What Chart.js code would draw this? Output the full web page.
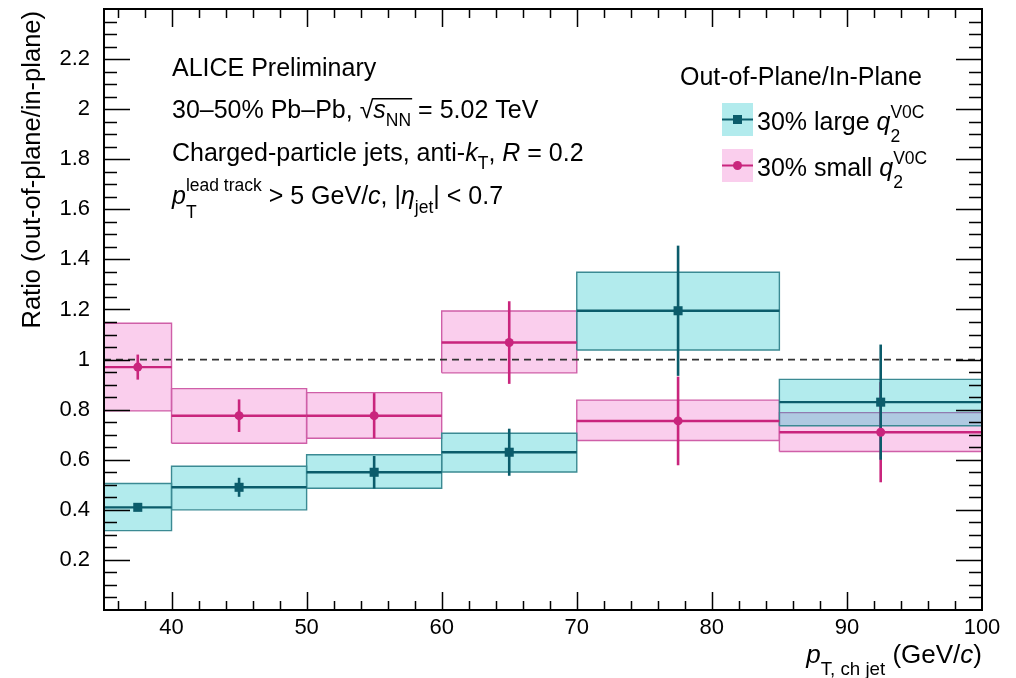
<!DOCTYPE html>
<html>
<head>
<meta charset="utf-8">
<script src="https://cdn.jsdelivr.net/npm/chart.js@4.4.0/dist/chart.umd.min.js"></script>
<style>
  html, body { margin: 0; padding: 0; background: #fff; }
  #wrap { width: 1016px; height: 678px; position: relative; }
</style>
</head>
<body>
<div id="wrap"><canvas id="ratioChart"></canvas></div>
<script>
// bins in pT,ch jet (GeV/c)
const binEdges = [35, 40, 50, 60, 70, 85, 100];
const binCenters = [37.5, 45, 55, 65, 77.5, 92.5];

// 30% large q2 (V0C)
const largeVal = [0.41, 0.49, 0.55, 0.63, 1.195, 0.83];
const largeStat = [0.012, 0.038, 0.065, 0.094, 0.26, 0.23];
const largeSysLo = [0.317, 0.40, 0.486, 0.551, 1.038, 0.736];
const largeSysHi = [0.505, 0.574, 0.62, 0.706, 1.349, 0.921];

// 30% small q2 (V0C)
const smallVal = [0.97, 0.776, 0.776, 1.068, 0.755, 0.71];
const smallStat = [0.05, 0.065, 0.09, 0.165, 0.177, 0.2];
const smallSysLo = [0.795, 0.666, 0.686, 0.947, 0.677, 0.633];
const smallSysHi = [1.145, 0.884, 0.868, 1.194, 0.838, 0.788];

const xTickLabels = [40, 50, 60, 70, 80, 90, 100];
const yTickLabels = [0.2, 0.4, 0.6, 0.8, 1, 1.2, 1.4, 1.6, 1.8, 2, 2.2];
const refLine = 1;

const FONT = '"Liberation Sans", Arial, Helvetica, sans-serif';
const TEAL = '#0b5c6b', TEAL_EDGE = '#3b8a93', TEAL_FILL = 'rgba(0,190,195,0.3)';
const PINK = '#c9257d', PINK_EDGE = '#cf5fa8', PINK_FILL = 'rgba(235,60,185,0.25)';

function boxSets(lo, hi, edge, fill, order) {
    return binCenters.map((c, i) => ({
        data: [
            {x: binEdges[i], y: lo[i]}, {x: binEdges[i], y: hi[i]},
            {x: binEdges[i + 1], y: hi[i]}, {x: binEdges[i + 1], y: lo[i]},
            {x: binEdges[i], y: lo[i]}
        ],
        borderColor: edge, backgroundColor: fill, borderWidth: 1.4,
        borderJoinStyle: 'miter', fill: 'shape', order: order
    }));
}

function binLines(val, color, order) {
    return binCenters.map((c, i) => ({
        data: [{x: binEdges[i], y: val[i]}, {x: binEdges[i + 1], y: val[i]}],
        borderColor: color, borderWidth: 2.4, fill: false, order: order
    }));
}

function statBars(val, err, color, order) {
    return binCenters.map((c, i) => ({
        data: [{x: c, y: val[i] - err[i]}, {x: c, y: val[i] + err[i]}],
        borderColor: color, borderWidth: 2.6, fill: false, order: order
    }));
}

function markers(val, color, style, r) {
    return {
        data: binCenters.map((c, i) => ({x: c, y: val[i]})),
        showLine: false, pointStyle: style, pointRadius: r,
        pointBackgroundColor: color, pointBorderColor: color, pointBorderWidth: 0,
        order: 0
    };
}

// text with italics / sub / superscripts, returns end x
function drawRuns(ctx, x, y, runs, size, measureOnly) {
    runs.forEach(r => {
        if (typeof r === 'string') r = {t: r};
        const parts = r.stack || [r];
        let adv = 0;
        parts.forEach(p => {
            ctx.font = (p.i ? 'italic ' : '') + (size * (p.s || 1)) + 'px ' + FONT;
            if (!measureOnly) ctx.fillText(p.t, x, y + (p.dy || 0));
            adv = Math.max(adv, ctx.measureText(p.t).width);
        });
        x += adv;
    });
    return x;
}

const frameTicks = {
    id: 'frameTicks',
    afterDraw(chart) {
        const {ctx, chartArea: a, scales: {x, y}} = chart;
        ctx.save();
        ctx.strokeStyle = '#000';
        ctx.lineWidth = 1.5;
        ctx.beginPath();
        for (let v = 36; v < 100; v += 2) {
            const px = Math.round(x.getPixelForValue(v)) + 0.5;
            const len = v % 10 === 0 ? 18 : 9;
            ctx.moveTo(px, a.bottom); ctx.lineTo(px, a.bottom - len);
            ctx.moveTo(px, a.top); ctx.lineTo(px, a.top + len);
        }
        for (let k = 1; k < 48; k++) {
            const py = Math.round(y.getPixelForValue(k * 0.05)) + 0.5;
            const len = k % 4 === 0 ? 26 : 13;
            ctx.moveTo(a.left, py); ctx.lineTo(a.left + len, py);
            ctx.moveTo(a.right, py); ctx.lineTo(a.right - len, py);
        }
        ctx.stroke();
        ctx.lineWidth = 2;
        ctx.strokeRect(a.left, a.top, a.right - a.left, a.bottom - a.top);
        ctx.restore();
    }
};

const annotations = {
    id: 'annotations',
    afterDraw(chart) {
        const {ctx, chartArea: a} = chart;
        const S = 25;
        ctx.save();
        ctx.fillStyle = '#000';
        ctx.textBaseline = 'alphabetic';
        ctx.textAlign = 'left';

        // left text block
        const tx = 172;
        drawRuns(ctx, tx, 76, ['ALICE Preliminary'], S);
        let xx = drawRuns(ctx, tx, 118, ['30\u201350% Pb\u2013Pb, ', '\u221a'], S);
        const ox = xx;
        xx = drawRuns(ctx, xx, 118, [{t: 's', i: 1}, {t: 'NN', s: 0.7, dy: 8}], S);
        ctx.fillRect(ox - 1, 118 - 20, xx - ox + 2, 1.5);
        drawRuns(ctx, xx, 118, [' = 5.02 TeV'], S);
        drawRuns(ctx, tx, 161, ['Charged-particle jets, anti-', {t: 'k', i: 1}, {t: 'T', s: 0.7, dy: 8},
            ', ', {t: 'R', i: 1}, ' = 0.2'], S);
        drawRuns(ctx, tx, 204, [{t: 'p', i: 1},
            {stack: [{t: 'lead track', s: 0.7, dy: -13}, {t: 'T', s: 0.7, dy: 14}]},
            ' > 5 GeV/', {t: 'c', i: 1}, ', |', {t: '\u03b7', i: 1}, {t: 'jet', s: 0.7, dy: 9}, '| < 0.7'], S);

        // legend
        drawRuns(ctx, 680, 85, ['Out-of-Plane/In-Plane'], S);
        const entries = [
            {fill: TEAL_FILL, color: TEAL, rect: true, cy: 119.5, label: '30% large '},
            {fill: PINK_FILL, color: PINK, rect: false, cy: 165.5, label: '30% small '}
        ];
        entries.forEach(e => {
            ctx.fillStyle = e.fill;
            ctx.fillRect(722, e.cy - 16.5, 31, 33);
            ctx.strokeStyle = e.color;
            ctx.lineWidth = 2;
            ctx.beginPath(); ctx.moveTo(722, e.cy); ctx.lineTo(753, e.cy); ctx.stroke();
            ctx.fillStyle = e.color;
            ctx.beginPath();
            if (e.rect) ctx.rect(733, e.cy - 4.5, 9, 9);
            else ctx.arc(737.5, e.cy, 4.5, 0, Math.PI * 2);
            ctx.fill();
            ctx.fillStyle = '#000';
            drawRuns(ctx, 757, e.cy + 10.5, [e.label, {t: 'q', i: 1},
                {stack: [{t: 'V0C', s: 0.7, dy: -12}, {t: '2', s: 0.7, dy: 12}]}], S);
        });

        // x title, right aligned to frame
        const xRuns = [{t: 'p', i: 1}, {t: 'T, ch jet', s: 0.72, dy: 12}, ' (GeV/', {t: 'c', i: 1}, ')'];
        const w = drawRuns(ctx, 0, 0, xRuns, 26, true);
        drawRuns(ctx, a.right - w, 663, xRuns, 26);

        // y title, rotated, right aligned to top
        ctx.translate(40, 11);
        ctx.rotate(-Math.PI / 2);
        ctx.textAlign = 'right';
        ctx.font = '25.5px ' + FONT;
        ctx.fillText('Ratio (out-of-plane/in-plane)', 0, 0);
        ctx.restore();
    }
};

const datasets = [].concat(
    [markers(largeVal, TEAL, 'rect', 6.4), markers(smallVal, PINK, 'circle', 4.5)],
    statBars(largeVal, largeStat, TEAL, 1),
    statBars(smallVal, smallStat, PINK, 1),
    binLines(largeVal, TEAL, 2),
    binLines(smallVal, PINK, 2),
    [{data: [{x: binEdges[0], y: refLine}, {x: binEdges[binEdges.length - 1], y: refLine}],
      borderColor: '#333', borderWidth: 1.8, borderDash: [7, 5], fill: false, order: 3}],
    boxSets(largeSysLo, largeSysHi, TEAL_EDGE, TEAL_FILL, 4),
    boxSets(smallSysLo, smallSysHi, PINK_EDGE, PINK_FILL, 5)
);

new Chart(document.getElementById('ratioChart').getContext('2d'), {
    type: 'line',
    data: {datasets: datasets},
    options: {
        responsive: true, maintainAspectRatio: false, animation: false, devicePixelRatio: 1,
        events: [],
        layout: {padding: {left: 0, right: 34, top: 9, bottom: 0}},
        elements: {point: {radius: 0, hoverRadius: 0}, line: {tension: 0}},
        plugins: {legend: {display: false}, tooltip: {enabled: false}},
        scales: {
            x: {
                type: 'linear', min: 35, max: 100,
                grid: {display: false}, border: {display: false},
                afterBuildTicks: s => { s.ticks = xTickLabels.map(v => ({value: v})); },
                afterFit: s => { s.height = 68; s.paddingLeft = 0; s.paddingRight = 0; },
                ticks: {color: '#000', font: {family: FONT, size: 22}, padding: -3,
                        maxRotation: 0, autoSkip: false, callback: v => String(v)}
            },
            y: {
                type: 'linear', min: 0, max: 2.4,
                grid: {display: false}, border: {display: false},
                afterBuildTicks: s => { s.ticks = yTickLabels.map(v => ({value: v})); },
                afterFit: s => { s.width = 104; s.paddingTop = 0; s.paddingBottom = 0; },
                ticks: {color: '#000', font: {family: FONT, size: 22}, padding: 6,
                        autoSkip: false, callback: v => String(+v.toFixed(1))}
            }
        }
    },
    plugins: [frameTicks, annotations]
});
</script>
</body>
</html>
